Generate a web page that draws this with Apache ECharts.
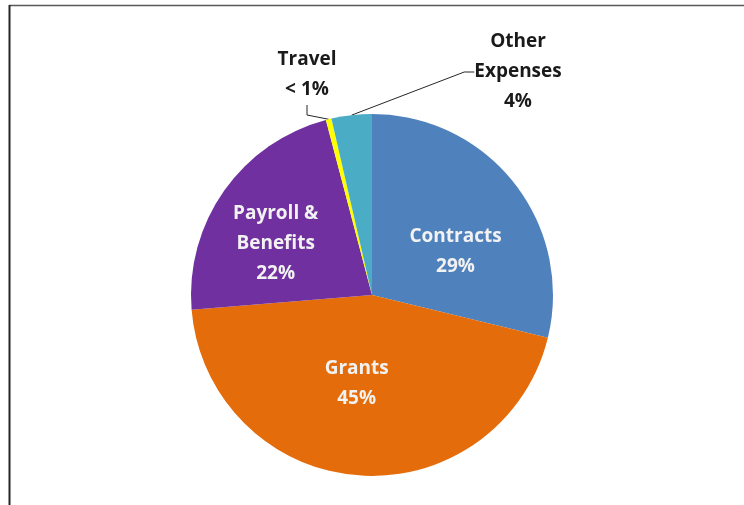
<!DOCTYPE html>
<html>
<head>
<meta charset="utf-8">
<script src="https://cdn.jsdelivr.net/npm/echarts@6/dist/echarts.min.js"></script>
<style>
html,body{margin:0;padding:0;background:#fff;}
#main{width:744px;height:505px;}
</style>
</head>
<body>
<div id="main"></div>
<script>
const categories = ["Contracts", "Grants", "Payroll & Benefits", "Travel", "Other Expenses"];
const labelNames = ["Contracts", "Grants", "Payroll &\nBenefits", "Travel", "Other\nExpenses"];
const values = [28.8, 44.9, 22.2, 0.5, 3.6];
const colors = ["#4F81BD", "#E46C0A", "#7030A0", "#FFFF00", "#4BACC6"];

const chart = echarts.init(document.getElementById('main'));
const FONT = 'Open Sans';

const data = categories.map((c, i) => ({
  name: c,
  value: values[i],
  itemStyle: { color: colors[i] },
  label: (i >= 3) ? {
    position: 'outside', color: '#1a1a1a'
  } : { position: 'inside', color: '#F2F2F2' },
  labelLine: { show: i >= 3 }
}));

const shifts = {
  0: { dx: 10, dy: 14 },
  1: { dx: -8, dy: -5 },
  2: { dx: -20, dy: 3 },
  3: { x: 307, y: 75, align: 'center', verticalAlign: 'middle' },
  4: { x: 518, y: 72, align: 'center', verticalAlign: 'middle' }
};

chart.setOption({
  animation: false,
  graphic: [
    { type: 'line', shape: { x1: 9, y1: 5.5, x2: 744, y2: 5.5 }, style: { stroke: '#595959', lineWidth: 1.5 }, z: 100 },
    { type: 'line', shape: { x1: 9.5, y1: 5, x2: 9.5, y2: 505 }, style: { stroke: '#262626', lineWidth: 2 }, z: 100 }
  ],
  series: [{
    type: 'pie',
    center: [372, 295],
    radius: 181,
    startAngle: 90,
    clockwise: true,
    avoidLabelOverlap: false,
    minShowLabelAngle: 0,
    data: data,
    itemStyle: { borderWidth: 0 },
    label: {
      show: true,
      fontFamily: FONT,
      fontWeight: 'bold',
      fontSize: 19,
      lineHeight: 30,
      align: 'center',
      formatter: function (p) {
        const pct = p.percent < 1 ? '< 1%' : Math.round(p.percent) + '%';
        return labelNames[p.dataIndex] + '\n' + pct;
      }
    },
    labelLine: {
      lineStyle: { color: '#262626', width: 1 },
      length: 10, length2: 10, smooth: false
    },
    labelLayout: function (params) {
      return shifts[params.dataIndex] || {};
    }
  }]
});
</script>
</body>
</html>
